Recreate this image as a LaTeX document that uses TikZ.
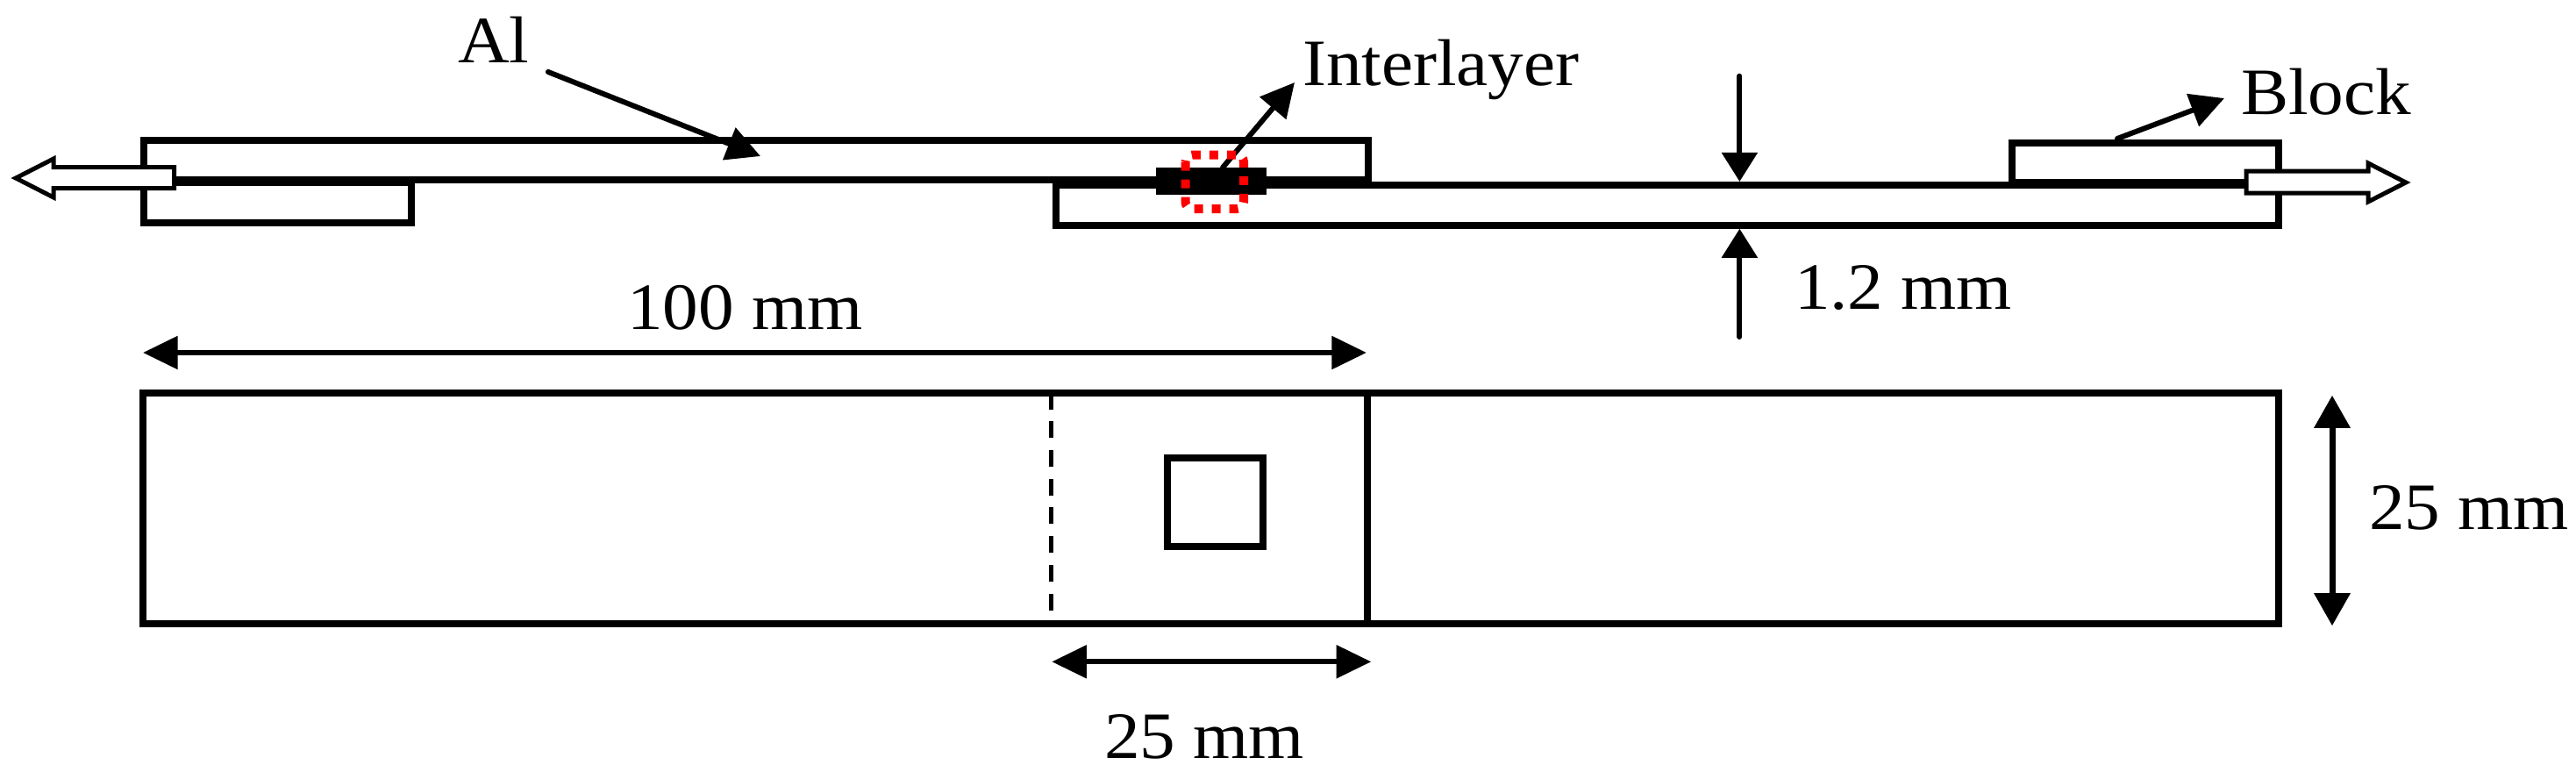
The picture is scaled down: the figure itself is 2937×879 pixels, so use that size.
\documentclass[tikz,border=0pt]{standalone}
\usepackage{fontspec}
\setmainfont{Liberation Serif}
\usetikzlibrary{arrows.meta}
\tikzset{
  part/.style={draw=black,line width=2pt,miter limit=10},
  lbl/.style={anchor=base west,inner sep=0pt,outer sep=0pt,text=black,font=\fontsize{20.3pt}{24pt}\selectfont},
  leader/.style={line width=1.5pt,line cap=round,-{Triangle[length=9.6pt,width=9.6pt]}},
  dimv/.style={line width=1.5pt,line cap=round,-{Triangle[length=8.3pt,width=10pt]}},
  dimh/.style={line width=1.5pt,{Triangle[length=9.9pt,width=9.2pt]}-{Triangle[length=9.9pt,width=9.2pt]}},
  dimr/.style={line width=1.75pt,{Triangle[length=9.3pt,width=10pt]}-{Triangle[length=9.3pt,width=10pt]}},
  openarrow/.style={draw=black,fill=white,line width=1.25pt,line join=miter},
  cutline/.style={draw=black,line width=1.1pt,dash pattern=on 4.75pt off 3.43pt},
  redring/.style={draw=red,line width=2.5pt,dash pattern=on 2.5pt off 2.5pt,rounded corners=2pt},
}
\newcommand{\lab}[1]{\scalebox{1}[0.93]{#1}}
\begin{document}
\begin{tikzpicture}[x=0.25pt,y=-0.25pt]
\useasboundingbox (0,0) rectangle (2937,879);
% side view
\draw[part] (163.5,159.6) rectangle (1560,205);
\draw[part] (163.5,208) rectangle (468.5,253.6);
\draw[part] (1203.5,211) rectangle (2598,257);
\draw[part] (2294,163) rectangle (2598,208);
\node[fill=black,minimum width=31.6pt,minimum height=7.75pt,inner sep=0pt,outer sep=0pt] (inter) at (1381,206.5) {};
% labels
\node[lbl] (al) at (522,71) {\lab{Al}};
\node[lbl] (interlabel) at (1485,97) {\lab{Interlayer}};
\node[lbl] (block) at (2555,130.5) {\lab{Block}};
\node[lbl] (thick) at (2046,352) {\lab{1.2 mm}};
\node[lbl] (len) at (715,375.5) {\lab{100 mm}};
\node[lbl] (ovl) at (1259,864) {\lab{25 mm}};
\node[lbl] (wid) at (2701,603.5) {\lab{25 mm}};
% leaders
\coordinate (alS) at (625,82); \coordinate (alT) at (867,178);
\draw[leader] (alS) -- (alT);
\coordinate (inS) at (1394,191); \coordinate (inT) at (1476,94);
\draw[leader] (inS) -- (inT);
\coordinate (blS) at (2414,158); \coordinate (blT) at (2536,112);
\draw[leader] (blS) -- (blT);
\draw[redring] (1351.5,176.6) rectangle (1418,238);
% load arrows
\draw[openarrow] (198.5,190.5) -- (61,190.5) -- (61,181) -- (18,203) -- (61,225) -- (61,214.5) -- (198.5,214.5) -- cycle;
\draw[openarrow] (2561,195) -- (2700,195) -- (2700,186) -- (2743,208) -- (2700,230) -- (2700,220) -- (2561,220) -- cycle;
% thickness
\coordinate (thA) at (1983.4,86.7); \coordinate (thB) at (1983.4,207);
\coordinate (thC) at (1983.4,384); \coordinate (thD) at (1983.4,260.7);
\draw[dimv] (thA) -- (thB);
\draw[dimv] (thC) -- (thD);
% plan view
\draw[part] (163,447.5) rectangle (2598,711);
\draw[part] (1559,447.5) -- (1559,711);
\draw[cutline] (1198.3,447.5) -- (1198.3,711);
\draw[part] (1330.7,521.7) rectangle (1439.7,622.7);
% dimensions
\coordinate (dA) at (163,402); \coordinate (dB) at (1558,402);
\draw[dimh] (dA) -- (dB);
\coordinate (dC) at (1199.3,754.3); \coordinate (dD) at (1563.3,754.3);
\draw[dimh] (dC) -- (dD);
\coordinate (dE) at (2659,450.7); \coordinate (dF) at (2659,713.3);
\draw[dimr] (dE) -- (dF);
\end{tikzpicture}
\end{document}
